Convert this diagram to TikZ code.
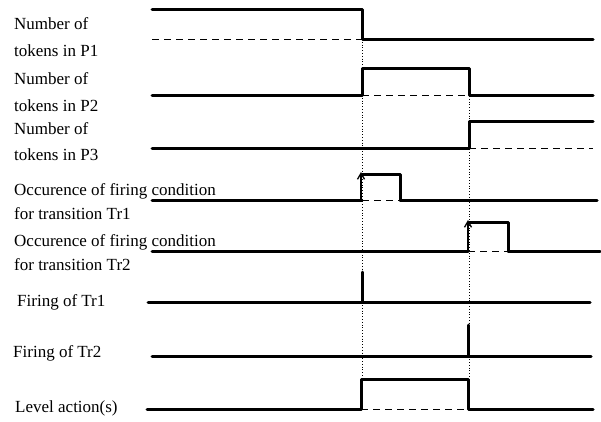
\documentclass[tikz,border=0pt]{standalone}
\usepackage{fontspec}
\setmainfont{Liberation Serif}
\usetikzlibrary{arrows.meta}
\begin{document}
\begin{tikzpicture}[x=1pt,y=-1pt,
  lbl/.style={anchor=west,inner sep=0pt,font=\fontsize{17}{20}\selectfont,text height=11.5pt,text depth=3.5pt},
  sig/.style={line width=3pt,line cap=round,line join=round},
  ref/.style={line width=0.9pt,dash pattern=on 7pt off 5pt},
  guide/.style={line width=0.8pt,dotted},
  trig/.style={line width=1.4pt,-{Straight Barb[length=6pt,width=7pt,line width=1.3pt]}}]
\useasboundingbox (0,0) rectangle (601,421);
% labels
\node[lbl] (l1a) at (14,25) {Number of};
\node[lbl] (l1b) at (14,52) {tokens in P1};
\node[lbl] (l2a) at (14,80) {Number of};
\node[lbl] (l2b) at (14,107) {tokens in P2};
\node[lbl] (l3a) at (14,130) {Number of};
\node[lbl] (l3b) at (14,156) {tokens in P3};
\node[lbl] (l4a) at (14,191) {Occurence of firing condition};
\node[lbl] (l4b) at (14,215) {for transition Tr1};
\node[lbl] (l5a) at (14,242) {Occurence of firing condition};
\node[lbl] (l5b) at (14,266) {for transition Tr2};
\node[lbl] (l6) at (17,302) {Firing of Tr1};
\node[lbl] (l7) at (13,353) {Firing of Tr2};
\node[lbl] (l8) at (15,408) {Level action(s)};
% time markers
\coordinate (ta) at (362,0);
\coordinate (tb) at (469,0);
% guide lines
\draw[guide] (362,39) -- (362,379);
\draw[guide] (469,96) -- (469,379);
% P1
\draw[ref] (152,39) -- (362,39);
\draw[sig] (152,9) -- (362,9) -- (362,39) -- (593,39);
% P2
\draw[ref] (362,95) -- (469,95);
\draw[sig] (152,95) -- (362,95) -- (362,68) -- (469,68) -- (469,95) -- (593,95);
% P3
\draw[ref] (469,148) -- (593,148);
\draw[sig] (152,148) -- (469,148) -- (469,121) -- (593,121);
% Tr1 condition
\draw[ref] (362,200) -- (400,200);
\draw[sig] (152,200) -- (362,200);
\draw[sig] (400,200) -- (597,200);
\draw[trig] (361,200) -- (361,172);
\draw[sig] (362,174) -- (400,174) -- (400,200);
% Tr2 condition
\draw[ref] (468,251) -- (508,251);
\draw[sig] (152,251) -- (468,251);
\draw[sig] (508,251) -- (600,251);
\draw[trig] (468,251) -- (468,220);
\draw[sig] (469,222) -- (508,222) -- (508,251);
% Firing Tr1
\draw[sig] (148,302) -- (590,302);
\draw[sig] (362,302) -- (362,272);
% Firing Tr2
\draw[sig] (152,356) -- (591,356);
\draw[sig] (468,356) -- (468,325);
% Level action
\draw[ref] (361,409) -- (468,409);
\draw[sig] (147,409) -- (361,409) -- (361,379) -- (468,379) -- (468,409) -- (593,409);
\end{tikzpicture}
\end{document}
